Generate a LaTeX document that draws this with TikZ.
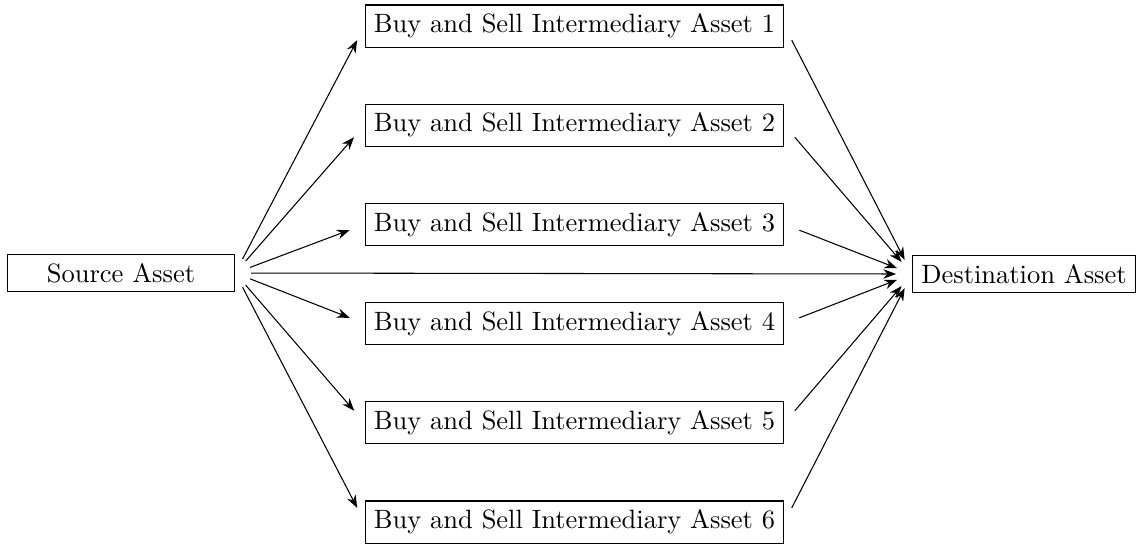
\documentclass[tikz,border=0pt]{standalone}
\usetikzlibrary{arrows.meta}
\begin{document}
\begin{tikzpicture}[x=0.3774pt,y=-0.3774pt,
  box/.style={draw,line width=0.4pt,inner sep=0.3333em,font=\normalsize},
  endbox/.style={box,minimum width=84pt},
  midbox/.style={box,minimum height=15.8pt},
  arr/.style={-{Stealth},line width=0.4pt,shorten <=6pt,shorten >=6pt}]
\useasboundingbox (0,0) rectangle (1138,544);
\node[endbox,minimum width=85.8pt] (src) at (121,273) {Source Asset};
\node[endbox,minimum width=82.5pt] (dst) at (1024,274) {Destination Asset};
\node[midbox] (m1) at (574.5,26) {Buy and Sell Intermediary Asset 1};
\node[midbox] (m2) at (574.5,125.2) {Buy and Sell Intermediary Asset 2};
\node[midbox] (m3) at (574.5,224.4) {Buy and Sell Intermediary Asset 3};
\node[midbox] (m4) at (574.5,323.6) {Buy and Sell Intermediary Asset 4};
\node[midbox] (m5) at (574.5,422.8) {Buy and Sell Intermediary Asset 5};
\node[midbox] (m6) at (574.5,522) {Buy and Sell Intermediary Asset 6};
\foreach \m in {m1,m2,m3,m4,m5,m6}{
  \draw[arr] (src.east) -- (\m.west);
  \draw[arr] (\m.east) -- (dst.west);
}
\draw[arr] (src.east) -- (dst.west);
\end{tikzpicture}
\end{document}
